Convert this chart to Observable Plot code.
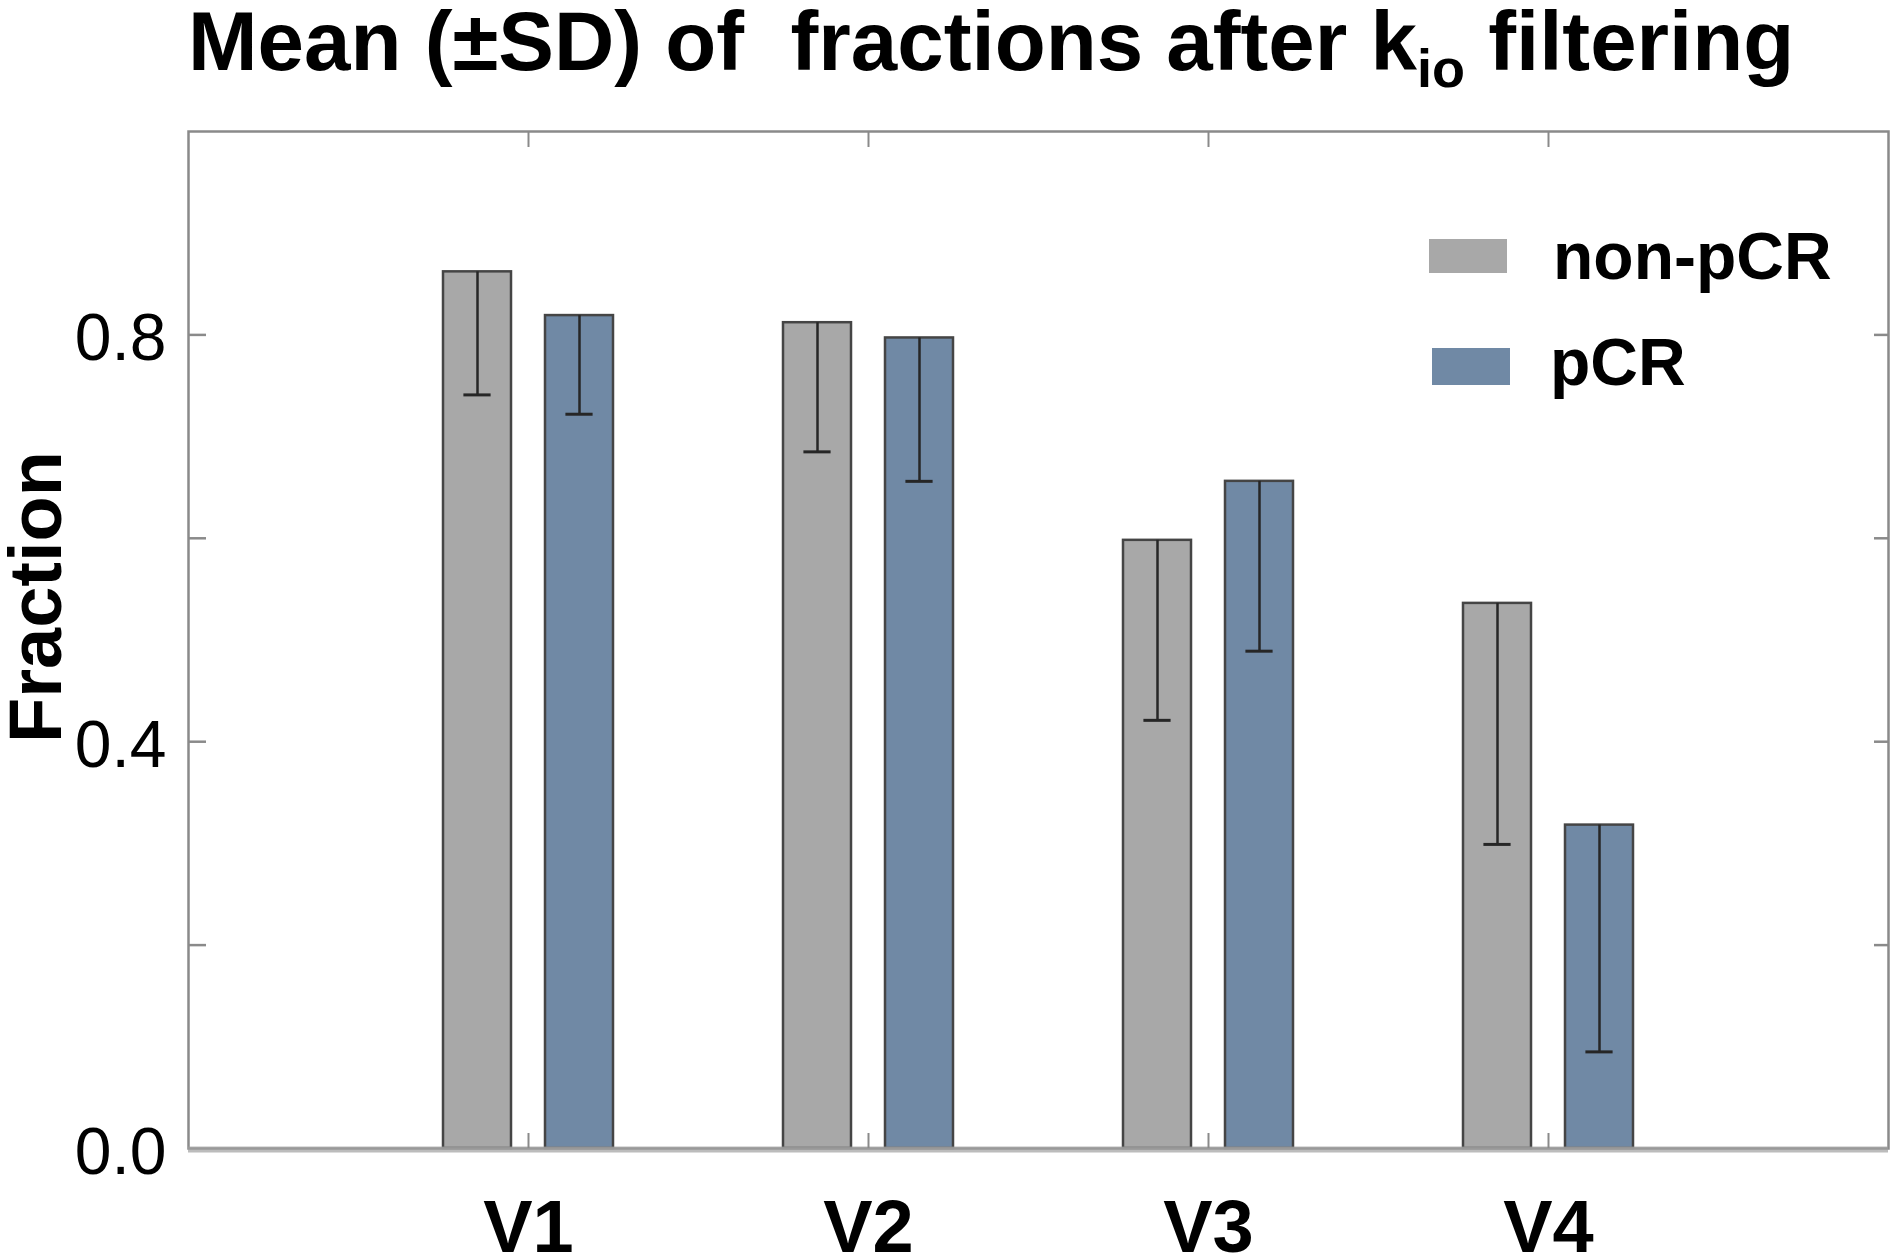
<!DOCTYPE html>
<html>
<head>
<meta charset="utf-8">
<script src="https://cdn.jsdelivr.net/npm/d3@7"></script>
<script src="https://cdn.jsdelivr.net/npm/@observablehq/plot@0.6"></script>
<style>
  body { margin: 0; background: white; font-family: 'Liberation Sans', Arial, sans-serif; }
  #wrap { position: relative; width: 1900px; height: 1257px; overflow: hidden; background: white; }
  #title { position: absolute; left: 188px; top: 0px; font-weight: bold; font-size: 83.5px; line-height: 1; white-space: pre; color: #000; }
  #title .sub { position: relative; top: 17px; font-size: 54px; }
  #chart { position: absolute; left: 0; top: 129px; }
  .lg-sw { position: absolute; width: 78px; }
  .lg-tx { position: absolute; font-weight: bold; font-size: 66px; line-height: 1; color: #000; white-space: pre; }
</style>
</head>
<body>
<div id="wrap">
  <div id="title">Mean (±SD) of  fractions after k<span class="sub">io</span> filtering</div>
  <div id="chart"></div>
  <div id="legend"></div>
</div>
<script>
// ---- data ----
const versions = ["V1", "V2", "V3", "V4"];
const groups = ["non-pCR", "pCR"];
const nonpcrMean = [0.862, 0.812, 0.598, 0.536];
const nonpcrSD   = [0.121, 0.127, 0.177, 0.237];
const pcrMean    = [0.819, 0.797, 0.656, 0.318];
const pcrSD      = [0.097, 0.141, 0.167, 0.223];
const colors = ["#a8a8a8", "#7089a5"];
const yLabelTicks = [0, 0.4, 0.8];
const yMinorTicks = [0.2, 0.4, 0.6, 0.8];
const xTicks = [1, 2, 3, 4];

const rows = versions.flatMap((v, i) => [
  {version: v, idx: i + 1, group: groups[0], gi: 0, mean: nonpcrMean[i], sd: nonpcrSD[i]},
  {version: v, idx: i + 1, group: groups[1], gi: 1, mean: pcrMean[i], sd: pcrSD[i]}
]);
const offset = 0.15, halfW = 0.1, capW = 0.04;
const center = d => d.idx + (d.gi === 0 ? -offset : offset);

const axisGrey = "#8a8a8a";

const chart = Plot.plot({
  width: 1900,
  height: 1128,
  marginLeft: 188,
  marginRight: 12,
  marginTop: 2,
  marginBottom: 109,
  x: {domain: [0, 5]},
  y: {domain: [0, 1]},
  color: {domain: groups, range: colors},
  style: {fontFamily: "'Liberation Sans', Arial, sans-serif", background: "white", color: "black"},
  marks: [
    Plot.rectY(rows, {
      x1: d => center(d) - halfW, x2: d => center(d) + halfW,
      y1: 0, y2: "mean", fill: "group", stroke: "#454545", strokeWidth: 2.5
    }),
    Plot.ruleX(rows, {x: center, y1: d => d.mean - d.sd, y2: "mean", stroke: "#262626", strokeWidth: 2.5}),
    Plot.ruleY(rows, {y: d => d.mean - d.sd, x1: d => center(d) - capW, x2: d => center(d) + capW, stroke: "#262626", strokeWidth: 3}),
    Plot.frame({stroke: axisGrey, strokeWidth: 2.5}),
    Plot.ruleY([0], {stroke: "#a0a0a0", strokeWidth: 6, strokeOpacity: 0.7, dy: 1}),
    Plot.axisY({anchor: "left", ticks: yMinorTicks, tickSize: -18, tickFormat: () => "", label: null, stroke: axisGrey, strokeWidth: 2.5}),
    Plot.axisY({anchor: "left", ticks: yLabelTicks, tickSize: 0, tickPadding: 22, tickFormat: ".1f", fontSize: 66, label: null, dy: 4}),
    Plot.axisY({anchor: "right", ticks: yMinorTicks, tickSize: -15, tickFormat: () => "", label: null, stroke: axisGrey, strokeWidth: 2.5}),
    Plot.axisX({anchor: "top", ticks: xTicks, tickSize: -15, tickFormat: () => "", label: null, stroke: axisGrey, strokeWidth: 2}),
    Plot.axisX({anchor: "bottom", ticks: xTicks, tickSize: -15, tickFormat: () => "", label: null, stroke: axisGrey, strokeWidth: 2}),
    Plot.axisX({anchor: "bottom", ticks: xTicks, tickSize: 0, tickPadding: 51, tickFormat: d => versions[d - 1], fontSize: 74, fontWeight: "bold", label: null}),
    Plot.text(["Fraction"], {text: d => d, frameAnchor: "left", rotate: -90, dx: -128, dy: -43, fontSize: 74, fontWeight: "bold", lineAnchor: "bottom", textAnchor: "middle"})
  ]
});
document.getElementById("chart").appendChild(chart);

// ---- legend (inside the plot area) ----
const legend = document.getElementById("legend");
const swLeft = [1429, 1432], swTop = [239, 348], swH = [34, 37];
const txLeft = [1553, 1550], txTop = [223, 329];
groups.forEach((g, i) => {
  const sw = document.createElement("div");
  sw.className = "lg-sw";
  sw.style.left = swLeft[i] + "px";
  sw.style.top = swTop[i] + "px";
  sw.style.height = swH[i] + "px";
  sw.style.background = colors[i];
  legend.appendChild(sw);
  const tx = document.createElement("div");
  tx.className = "lg-tx";
  tx.style.left = txLeft[i] + "px";
  tx.style.top = txTop[i] + "px";
  tx.textContent = g;
  legend.appendChild(tx);
});
</script>
</body>
</html>
